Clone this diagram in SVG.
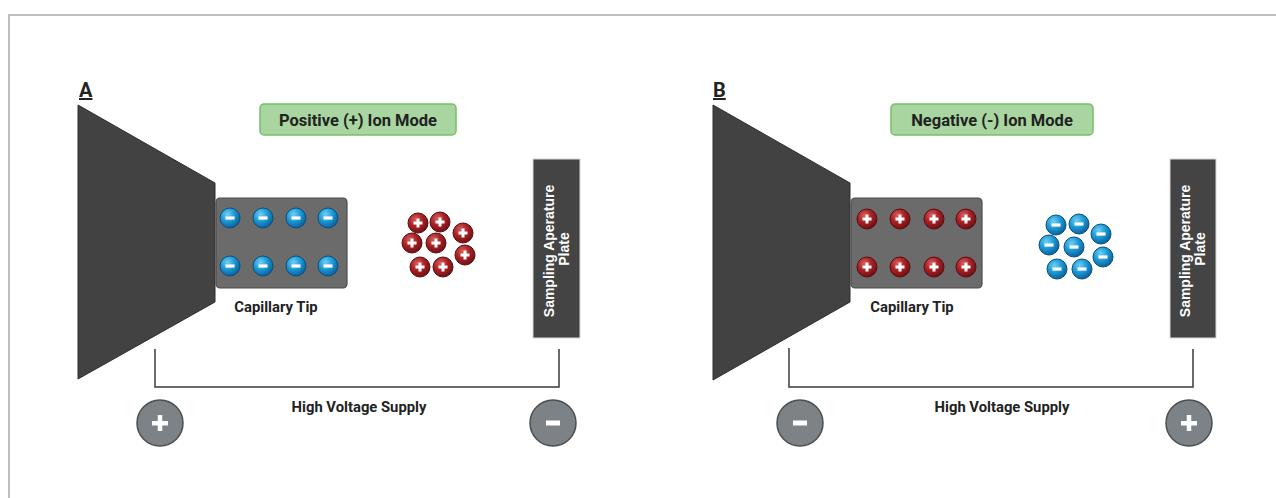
<svg xmlns="http://www.w3.org/2000/svg" xmlns:xlink="http://www.w3.org/1999/xlink" width="1276" height="498" viewBox="0 0 1276 498">
  <style>
    .frame { fill: none; stroke: #bdbdbd; stroke-width: 2; }
    .emitter { fill: #424242; stroke: #2e2e2e; stroke-width: 1; }
    .tip { fill: #6b6b6b; stroke: #4d4d4d; stroke-width: 1.2; }
    .plate { fill: #444444; stroke: #d8d8d8; stroke-width: 1; }
    .mode { fill: #a8d5a0; stroke: #78bf6b; stroke-width: 1.5; }
    .wire { fill: none; stroke: #3a3a3a; stroke-width: 1.5; }
    .term { fill: #7c8286; stroke: #4a4f52; stroke-width: 1.5; }
    .lbl { font-family: Roboto, "Liberation Sans", sans-serif; font-weight: bold; fill: #222; }
    .panel { font-size: 20px; text-decoration: underline; }
    .modeTxt { font-size: 16.5px; }
    .small { font-size: 14.8px; }
    .plateTxt { font-family: "Liberation Sans", Arial, sans-serif; font-weight: bold; font-size: 14px; fill: #ffffff; }
    .sign { fill: #ffffff; }
  </style>
  <defs>
    <radialGradient id="gBlue" cx="0.38" cy="0.32" r="0.7">
      <stop offset="0" stop-color="#6fd0f5"/>
      <stop offset="0.5" stop-color="#1c9ad6"/>
      <stop offset="1" stop-color="#0b5f99"/>
    </radialGradient>
    <radialGradient id="gRed" cx="0.38" cy="0.32" r="0.7">
      <stop offset="0" stop-color="#d86060"/>
      <stop offset="0.5" stop-color="#aa2024"/>
      <stop offset="1" stop-color="#6e1014"/>
    </radialGradient>
    <g id="ionNeg">
      <circle r="10" fill="url(#gBlue)" stroke="#0a4f80" stroke-width="1"/>
      <rect x="-4.5" y="-1.6" width="9" height="3.2" class="sign"/>
    </g>
    <g id="ionPos">
      <circle r="10" fill="url(#gRed)" stroke="#5a0d10" stroke-width="1"/>
      <rect x="-4.5" y="-1.5" width="9" height="3" class="sign"/>
      <rect x="-1.5" y="-4.5" width="3" height="9" class="sign"/>
    </g>
  </defs>

  <rect x="0" y="0" width="1276" height="498" fill="#ffffff"/>
  <rect class="frame" x="9" y="15" width="1290" height="500"/>

  <!-- Panel A: positive ion mode -->
  <g id="panelA">
    <text class="lbl panel" x="79" y="97">A</text>
    <g id="modeA">
      <rect class="mode" x="260" y="104" width="196" height="31" rx="4"/>
      <text class="lbl modeTxt" x="358" y="125.5" text-anchor="middle">Positive (+) Ion Mode</text>
    </g>
    <g id="emitterA">
      <polygon class="emitter" points="78,105 215,183 215,302 78,379"/>
    </g>
    <g id="tipA">
      <rect class="tip" x="216" y="198" width="131" height="90" rx="4"/>
      <use xlink:href="#ionNeg" x="230" y="218"/>
      <use xlink:href="#ionNeg" x="263" y="218"/>
      <use xlink:href="#ionNeg" x="296" y="218"/>
      <use xlink:href="#ionNeg" x="328" y="218"/>
      <use xlink:href="#ionNeg" x="230" y="266"/>
      <use xlink:href="#ionNeg" x="263" y="266"/>
      <use xlink:href="#ionNeg" x="296" y="266"/>
      <use xlink:href="#ionNeg" x="328" y="266"/>
      <text class="lbl small" x="276" y="312" text-anchor="middle">Capillary Tip</text>
    </g>
    <g id="cloudA">
      <use xlink:href="#ionPos" x="418" y="223"/>
      <use xlink:href="#ionPos" x="440" y="222"/>
      <use xlink:href="#ionPos" x="463" y="233"/>
      <use xlink:href="#ionPos" x="412" y="243"/>
      <use xlink:href="#ionPos" x="436" y="243"/>
      <use xlink:href="#ionPos" x="465" y="255"/>
      <use xlink:href="#ionPos" x="420" y="267"/>
      <use xlink:href="#ionPos" x="443" y="267"/>
    </g>
    <g id="plateA">
      <rect class="plate" x="533" y="159" width="47" height="179"/>
      <text class="plateTxt" transform="translate(556.5,249) rotate(-90)" text-anchor="middle">
        <tspan x="0" y="-3">Sampling Aperature</tspan>
        <tspan x="0" y="12">Plate</tspan>
      </text>
    </g>
    <g id="termA">
      <circle class="term" cx="160" cy="423" r="23"/>
      <rect class="sign" x="152" y="421" width="16" height="4.5"/>
      <rect class="sign" x="157.75" y="415" width="4.5" height="16"/>
      <circle class="term" cx="553" cy="423" r="23"/>
      <rect class="sign" x="546" y="420.5" width="14" height="5"/>
    </g>
    <text class="lbl small" x="359" y="412" text-anchor="middle">High Voltage Supply</text>
  </g>

  <!-- Panel B: negative ion mode -->
  <g id="panelB">
    <text class="lbl panel" x="713" y="97">B</text>
    <g id="modeB">
      <rect class="mode" x="891" y="104" width="202" height="31" rx="4"/>
      <text class="lbl modeTxt" x="992" y="125.5" text-anchor="middle">Negative (-) Ion Mode</text>
    </g>
    <g id="emitterB">
      <polygon class="emitter" points="713,105 850,183 850,302 713,380"/>
    </g>
    <g id="tipB">
      <rect class="tip" x="851" y="198" width="131" height="90" rx="4"/>
      <use xlink:href="#ionPos" x="867" y="219"/>
      <use xlink:href="#ionPos" x="900" y="219"/>
      <use xlink:href="#ionPos" x="934" y="219"/>
      <use xlink:href="#ionPos" x="966" y="219"/>
      <use xlink:href="#ionPos" x="867" y="267"/>
      <use xlink:href="#ionPos" x="900" y="267"/>
      <use xlink:href="#ionPos" x="934" y="267"/>
      <use xlink:href="#ionPos" x="966" y="267"/>
      <text class="lbl small" x="912" y="312" text-anchor="middle">Capillary Tip</text>
    </g>
    <g id="cloudB">
      <use xlink:href="#ionNeg" x="1056" y="225"/>
      <use xlink:href="#ionNeg" x="1079" y="224"/>
      <use xlink:href="#ionNeg" x="1101" y="234"/>
      <use xlink:href="#ionNeg" x="1049" y="245"/>
      <use xlink:href="#ionNeg" x="1074" y="247"/>
      <use xlink:href="#ionNeg" x="1103" y="257"/>
      <use xlink:href="#ionNeg" x="1057" y="269"/>
      <use xlink:href="#ionNeg" x="1082" y="269"/>
    </g>
    <g id="plateB">
      <rect class="plate" x="1170" y="159" width="46" height="179"/>
      <text class="plateTxt" transform="translate(1193,249) rotate(-90)" text-anchor="middle">
        <tspan x="0" y="-3">Sampling Aperature</tspan>
        <tspan x="0" y="12">Plate</tspan>
      </text>
    </g>
    <g id="termB">
      <circle class="term" cx="800" cy="423" r="23"/>
      <rect class="sign" x="793" y="420.5" width="14" height="5"/>
      <circle class="term" cx="1189" cy="423" r="23"/>
      <rect class="sign" x="1181" y="421" width="16" height="4.5"/>
      <rect class="sign" x="1186.75" y="415" width="4.5" height="16"/>
    </g>
    <text class="lbl small" x="1002" y="412" text-anchor="middle">High Voltage Supply</text>
  </g>

  <!-- supply wiring between emitter and plate -->
  <g id="connectors">
    <polyline class="wire" points="155,349 155,387 559,387 559,349"/>
    <polyline class="wire" points="789,348 789,387 1193,387 1193,349"/>
  </g>
</svg>
